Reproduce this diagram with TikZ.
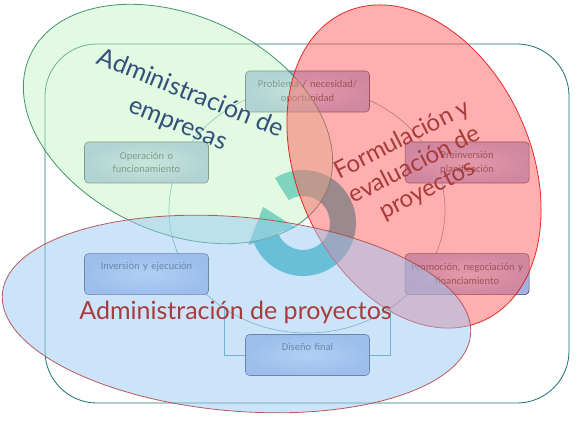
\documentclass[tikz,border=0pt]{standalone}
\usepackage{fontspec}
\setmainfont{Carlito}
\newfontfamily\titlefont{Lato}
\usepackage{tikz}
\usetikzlibrary{shapes.geometric,positioning}
\definecolor{framecol}{HTML}{1A7070}
\definecolor{cyccol}{HTML}{5A9A9A}
\definecolor{linkcol}{HTML}{40A0B0}
\definecolor{boxedge}{HTML}{3E4858}
\definecolor{boxlight}{HTML}{CCD6F6}
\definecolor{boxdark}{HTML}{A2B2E4}
\definecolor{boxtext}{HTML}{3A4656}
\definecolor{ringcol}{HTML}{3AB4BC}
\definecolor{greenfill}{HTML}{C3F5C3}
\definecolor{greenedge}{HTML}{2E8A5E}
\definecolor{redfill}{HTML}{FF5F5F}
\definecolor{rededge}{HTML}{E01818}
\definecolor{bluefill}{HTML}{99C9F5}
\definecolor{blueedge}{HTML}{B04A4A}
\definecolor{empresacol}{HTML}{34507A}
\definecolor{proycol}{HTML}{A83C3C}
\tikzset{
    %Define style for the boxes of the cycle
    etapa/.style={
           rectangle,
           rounded corners=4pt,
           draw=boxedge, line width=0.6pt,
           inner color=boxlight, outer color=boxdark,
           minimum width=124pt,
           minimum height=41pt,
           text width=122pt,
           inner xsep=1pt,
           align=center,
           font=\fontsize{10.5}{13.5}\selectfont,
           text=boxtext},
    unalinea/.style={
           text height=12pt,
           text depth=21pt,
           inner ysep=4pt},
    %Define style for the big areas
    area/.style={
           line width=0.8pt,
           fill opacity=0.5,
           draw opacity=0.9},
    areatext/.style={
           font=\titlefont\fontsize{24}{28}\selectfont,
           align=center}
}
\begin{document}
\begin{tikzpicture}[x=1pt,y=1pt,
  enlace/.style={draw=linkcol, line width=0.6pt},
  anillo/.style={fill=ringcol}]
\useasboundingbox (0,0) rectangle (577,420);

 %frame and cycle
\draw[framecol, line width=0.8pt, rounded corners=52pt] (45,17) rectangle (569,376);
\node[ellipse, draw=cyccol, line width=0.6pt, inner sep=0pt,
  minimum width=276pt, minimum height=246pt](cyc) at (307,210){};

 %central arrow
\begin{scope}[shift={(303,197)}]
\fill[anillo] (122:53) arc[start angle=122, end angle=-158, radius=53]
  -- (-158:59) -- (158:43) -- (-150:9) -- (-158:27)
  arc[start angle=-158, end angle=122, radius=27] -- cycle;
\end{scope}

 %nodes
\node[etapa](prob) at (307.5,328.5){Problema / necesidad/\\oportunidad};
\node[etapa](op) at (146.5,257.5){Operación o\\funcionamiento};
\node[etapa, unalinea, below=70pt of op](inv){Inversión y ejecución};
\node[etapa, right=196pt of op](pre){Preinversión\\planificación};
\node[etapa, below=70pt of pre](prom){Promoción, negociación y\\financiamiento};
\node[etapa, unalinea](dis) at (307.5,65){Diseño final};
\path[enlace]
    (cyc.-130.6) |- (dis.west)
    (cyc.-50.4) |- (dis.east);

 %areas
\path[area, fill=greenfill, draw=greenedge, rotate around={-25:(178,296)}]
  (178,296) ellipse [x radius=163, y radius=108];
\path[area, fill=redfill, draw=rededge, rotate around={-66:(414,253.5)}]
  (414,253.5) ellipse [x radius=169, y radius=117];
\path[area, fill=bluefill, draw=blueedge, rotate around={-5:(236.5,106)}]
  (236.5,106) ellipse [x radius=235, y radius=97];

 %labels
\node[areatext, text=empresacol, rotate=-22, font=\titlefont\fontsize{25}{33}\selectfont](emp) at (184,311){Administración de\\empresas};
\node[areatext, text=proycol, rotate=27](form) at (415,255){Formulación y\\evaluación de\\proyectos};
\node[areatext, text=proycol, font=\titlefont\fontsize{25}{28}\selectfont](adp) at (235.5,108){Administración de proyectos};
\end{tikzpicture}
\end{document}
